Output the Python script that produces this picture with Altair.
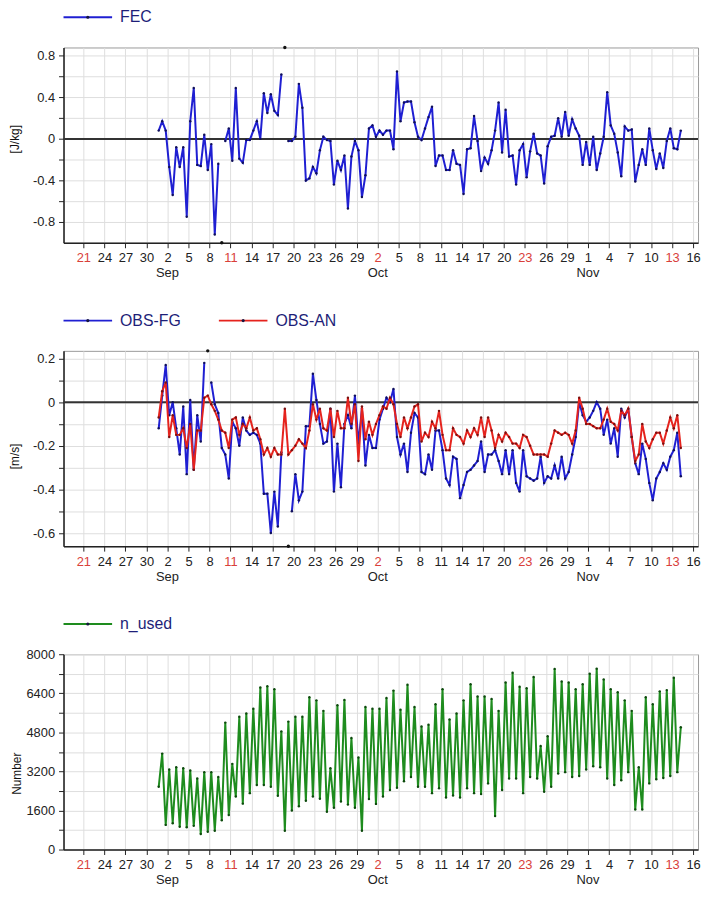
import altair as alt
import pandas as pd

FONT = "Liberation Sans"
INK = "#222222"
GRID = "#dedede"
SUN = "#d9403a"
LEG_TXT = "#1e1e78"

# ---------------- data (12-hourly, first time 2011-08-31 18 UTC) ----------------
N = 150
times = pd.date_range("2011-08-31 18:00", periods=N, freq="12h").strftime("%Y-%m-%dT%H:%M:%SZ").tolist()

fec = [0.08, 0.17, 0.08, -0.27, -0.54, -0.08, -0.27, -0.08, -0.75, 0.17,
       0.49, -0.25, -0.26, 0.04, -0.30, -0.05, -0.92, -0.24, None, -0.02,
       0.10, -0.21, 0.49, -0.19, -0.23, -0.01, -0.01, 0.08, 0.17, 0.00,
       0.44, 0.25, 0.43, 0.27, 0.23, 0.62, None, -0.02, -0.02, 0.02,
       0.53, 0.30, -0.40, -0.38, -0.27, -0.33, -0.11, 0.02, -0.01, -0.02,
       -0.44, -0.21, -0.30, -0.16, -0.67, -0.17, -0.02, -0.11, -0.56, -0.35,
       0.10, 0.13, 0.02, 0.08, 0.04, 0.08, 0.08, -0.10, 0.65, 0.17,
       0.35, 0.36, 0.36, 0.16, 0.02, -0.01, 0.10, 0.21, 0.31, -0.26,
       -0.16, -0.16, -0.30, -0.30, -0.11, -0.24, -0.25, -0.53, -0.10, -0.09,
       0.22, -0.02, -0.31, -0.18, -0.24, -0.11, 0.08, 0.35, -0.13, 0.28,
       -0.17, -0.16, -0.44, -0.11, -0.05, -0.37, -0.12, 0.05, -0.14, -0.16,
       -0.43, -0.07, 0.02, 0.03, 0.20, 0.02, 0.26, 0.03, 0.19, 0.10,
       0.03, -0.25, -0.03, -0.25, 0.02, -0.30, -0.14, 0.02, 0.45, 0.13,
       0.05, -0.13, -0.36, 0.12, 0.08, 0.09, -0.41, -0.25, -0.10, -0.25,
       0.10, -0.11, -0.29, -0.14, -0.28, -0.02, 0.10, -0.09, -0.10, 0.08]
fec_out_idx = [18, 36]
fec_out_val = [-1.0, 0.88]

obs_fg = [-0.12, 0.03, 0.17, -0.06, 0.00, -0.12, -0.24, -0.02, -0.33, 0.01,
          -0.31, -0.06, -0.18, 0.18, None, 0.09, -0.01, -0.05, -0.21, -0.24,
          -0.35, -0.09, -0.12, -0.20, -0.07, -0.13, -0.15, -0.14, -0.15, -0.19,
          -0.42, -0.42, -0.60, -0.41, -0.57, -0.23, None, None, -0.50, -0.33,
          -0.45, -0.41, -0.11, -0.11, 0.13, 0.01, -0.10, -0.19, -0.18, -0.03,
          -0.41, -0.19, -0.39, -0.10, -0.06, -0.12, 0.03, -0.19, -0.03, -0.29,
          -0.15, -0.21, -0.21, -0.08, -0.03, 0.02, 0.00, 0.06, -0.16, -0.24,
          -0.19, -0.32, -0.14, -0.05, -0.07, -0.32, -0.33, -0.24, -0.31, -0.13,
          -0.13, -0.22, -0.35, -0.38, -0.25, -0.26, -0.44, -0.38, -0.32, -0.31,
          -0.29, -0.27, -0.18, -0.32, -0.24, -0.24, -0.22, -0.27, -0.33, -0.22,
          -0.33, -0.22, -0.37, -0.41, -0.22, -0.34, -0.35, -0.36, -0.35, -0.25,
          -0.37, -0.34, -0.35, -0.29, -0.35, -0.25, -0.35, -0.32, -0.24, -0.16,
          0.00, -0.06, -0.09, -0.07, -0.04, 0.00, -0.03, -0.15, -0.08, -0.19,
          -0.12, -0.25, -0.03, -0.07, -0.03, -0.16, -0.28, -0.33, -0.19, -0.26,
          -0.37, -0.45, -0.35, -0.32, -0.28, -0.31, -0.25, -0.22, -0.14, -0.34]
fg_out_idx = [14, 37]
fg_out_val = [0.235, -0.66]

obs_an = [-0.07, 0.05, 0.09, -0.16, -0.06, -0.15, -0.15, -0.12, -0.21, -0.10,
          -0.31, -0.13, -0.13, 0.02, 0.03, -0.01, -0.04, -0.08, -0.13, -0.14,
          -0.21, -0.08, -0.07, -0.15, -0.10, -0.12, -0.07, -0.13, -0.12, -0.17,
          -0.24, -0.21, -0.25, -0.21, -0.24, -0.24, -0.03, -0.24, -0.22, -0.20,
          -0.17, -0.19, -0.21, -0.13, -0.01, -0.08, -0.03, -0.12, -0.13, -0.03,
          -0.16, -0.04, -0.12, -0.12, 0.02, -0.10, -0.01, -0.27, -0.02, -0.17,
          -0.09, -0.15, -0.10, -0.06, -0.02, -0.03, 0.02, -0.01, -0.10, -0.16,
          -0.07, -0.12, -0.07, -0.02, -0.01, -0.18, -0.14, -0.16, -0.09, -0.12,
          -0.04, -0.15, -0.22, -0.22, -0.12, -0.15, -0.16, -0.19, -0.13, -0.16,
          -0.12, -0.15, -0.07, -0.16, -0.07, -0.13, -0.21, -0.15, -0.18, -0.14,
          -0.16, -0.19, -0.19, -0.21, -0.15, -0.16, -0.20, -0.24, -0.24, -0.24,
          -0.24, -0.25, -0.19, -0.13, -0.14, -0.15, -0.14, -0.15, -0.19, -0.13,
          0.02, -0.03, -0.10, -0.10, -0.11, -0.12, -0.12, -0.08, -0.03, -0.09,
          -0.10, -0.13, -0.04, -0.06, -0.03, -0.16, -0.27, -0.24, -0.10, -0.18,
          -0.21, -0.17, -0.14, -0.14, -0.19, -0.13, -0.07, -0.12, -0.06, -0.21]

n_used = [2570, 3930, 1010, 3280, 1080, 3370, 930, 3330, 910, 3240,
          970, 2910, 640, 3170, 730, 3170, 770, 2970, 1200, 5200,
          1410, 3510, 2170, 5440, 1880, 5570, 2310, 5770, 2640, 6640,
          2640, 6690, 2570, 6570, 2200, 4840, 770, 5240, 1600, 5440,
          1770, 5440, 2000, 6240, 2170, 6110, 2080, 5680, 1550, 3330,
          1710, 5910, 1970, 6130, 1840, 4570, 1710, 3770, 770, 5840,
          2070, 5770, 1870, 5770, 2170, 6210, 2440, 6510, 2530, 5730,
          2800, 6750, 2970, 5840, 2570, 5040, 2570, 5110, 2310, 5950,
          2510, 6570, 2130, 5330, 2210, 5570, 2130, 6110, 2510, 6770,
          2310, 6270, 2270, 6270, 2710, 6170, 1370, 5680, 2440, 6840,
          2910, 7240, 2910, 6670, 2310, 6610, 2970, 7070, 2910, 4240,
          2370, 4640, 2570, 7400, 3110, 6880, 3170, 6840, 2970, 6570,
          3010, 6770, 3280, 7200, 3410, 7410, 3370, 6970, 2910, 6570,
          2640, 6440, 2840, 6110, 3170, 5680, 1640, 3370, 1640, 6240,
          2710, 5950, 2880, 6480, 2930, 6530, 3010, 7040, 3170, 5010]

month_dates = ["2011-09-02T00:00:00Z", "2011-10-02T00:00:00Z", "2011-11-01T00:00:00Z"]
month_names = ["Sep", "Oct", "Nov"]

fec_df = pd.DataFrame({"t": times, "v": fec})
fec_out_df = pd.DataFrame({"t": [times[i] for i in fec_out_idx], "v": fec_out_val})
fg_df = pd.DataFrame({"t": times, "v": obs_fg})
fg_out_df = pd.DataFrame({"t": [times[i] for i in fg_out_idx], "v": fg_out_val})
an_df = pd.DataFrame({"t": times, "v": obs_an})
n_df = pd.DataFrame({"t": times, "v": n_used})
month_df = pd.DataFrame({"t": month_dates, "name": month_names})
zero_df = pd.DataFrame({"v": [0.0]})

# ---------------- encodings ----------------
W = 640
X_DOMAIN = [alt.DateTime(year=2011, month=8, date=18, hours=4, utc=True),
            alt.DateTime(year=2011, month=11, date=16, hours=17, utc=True)]
tick_days = pd.date_range("2011-08-21", "2011-11-16", freq="3D")
TICKS = [alt.DateTime(year=int(d.year), month=int(d.month), date=int(d.day), utc=True) for d in tick_days]


def xenc():
    return alt.X(
        "t:T",
        scale=alt.Scale(type="utc", domain=X_DOMAIN),
        axis=alt.Axis(
            values=TICKS, title=None, grid=True, gridColor=GRID, gridWidth=1,
            labelExpr="'' + utcdate(datum.value)",
            labelColor={"condition": {"test": "utcday(datum.value) == 0", "value": SUN}, "value": INK},
            labelFontSize=13, labelFont=FONT, labelPadding=4, labelOverlap=False, labelFlush=False,
            tickSize=5, tickColor=INK, domainColor=INK, domainWidth=1.5,
        ),
    )


def yenc(domain, values, step, title, tx, ty, integer=False):
    if integer:
        fmt = "format(datum.value, 'd')"
    else:
        fmt = "(datum.value == 0 ? '0' : (datum.value < 0 ? '-' : '') + format(abs(datum.value), '.1f'))"
    expr = f"abs(datum.value / {step} - round(datum.value / {step})) < 0.001 ? {fmt} : ''"
    return alt.Y(
        "v:Q",
        scale=alt.Scale(domain=domain, nice=False, zero=False),
        axis=alt.Axis(
            values=values, title=title, labelExpr=expr, grid=True, gridColor=GRID, gridWidth=1,
            labelFontSize=13, labelFont=FONT, labelColor=INK, labelPadding=4,
            tickSize=5, tickColor=INK, domainColor=INK, domainWidth=1.5,
            titleX=tx, titleY=ty, titleAngle=270, titleAlign="center", titleBaseline="middle",
            titleFontSize=12, titleFont=FONT, titleFontWeight="normal", titleColor="#111111",
        ),
    )


LEG_Y = -30.5
MONTH_DY = 31


def legend(entries):
    layers = []
    for label, color, x0 in entries:
        d = pd.DataFrame({"label": [label]})
        b = alt.Chart(d)
        layers.append(b.mark_rule(color=color, strokeWidth=2).encode(
            x=alt.value(x0), x2=alt.value(x0 + 49), y=alt.value(LEG_Y)))
        layers.append(b.mark_circle(color="#151540", size=10, opacity=1).encode(
            x=alt.value(x0 + 24.5), y=alt.value(LEG_Y)))
        layers.append(b.mark_text(align="left", baseline="middle", fontSize=16, font=FONT, color=LEG_TXT).encode(
            x=alt.value(x0 + 57), y=alt.value(LEG_Y), text="label:N"))
    return layers


def months(h):
    return alt.Chart(month_df).mark_text(baseline="middle", fontSize=13, font=FONT, color=INK).encode(
        x=xenc(), y=alt.value(h + MONTH_DY), text="name:N")


def series_line(df, y, color, dot):
    return alt.Chart(df).mark_line(
        color=color, strokeWidth=2, invalid="break-paths-filter-domains",
        point=alt.OverlayMarkDef(filled=True, size=6, color=dot),
    ).encode(x=xenc(), y=y)


def outlier_pts(df, y):
    return alt.Chart(df).mark_circle(color="#111111", size=12, opacity=1).encode(x=xenc(), y=y)


def zero_rule(y):
    return alt.Chart(zero_df).mark_rule(color="#333333", strokeWidth=2).encode(y=y)


BLUE = "#1f1fd2"
RED = "#e5231d"
GREEN = "#1e8c1e"

# ---------------- panel 1 : FEC ----------------
H1 = 197
y1 = yenc([-1.0, 0.88], [-0.8, -0.6, -0.4, -0.2, 0.0, 0.2, 0.4, 0.6, 0.8], 0.4, "[J/kg]", -49, 92)
p1 = alt.layer(
    zero_rule(y1),
    series_line(fec_df, y1, BLUE, "#10105a"),
    outlier_pts(fec_out_df, y1),
    *legend([("FEC", BLUE, 0)]),
    months(H1),
).properties(width=W, height=H1)

# ---------------- panel 2 : OBS-FG / OBS-AN ----------------
H2 = 197
y2 = yenc([-0.66, 0.235], [-0.6, -0.5, -0.4, -0.3, -0.2, -0.1, 0.0, 0.1, 0.2], 0.2, "[m/s]", -49, 106)
p2 = alt.layer(
    zero_rule(y2),
    series_line(fg_df, y2, BLUE, "#10105a"),
    series_line(an_df, y2, RED, "#7a1010"),
    outlier_pts(fg_out_df, y2),
    *legend([("OBS-FG", BLUE, 0), ("OBS-AN", RED, 156.7)]),
    months(H2),
).properties(width=W, height=H2)

# ---------------- panel 3 : n_used ----------------
H3 = 197
y3 = yenc([0, 8000], list(range(0, 8001, 800)), 1600, "Number", -47, 120, integer=True)
p3 = alt.layer(
    series_line(n_df, y3, GREEN, "#0d4a0d"),
    *legend([("n_used", GREEN, 0)]),
    months(H3),
).properties(width=W, height=H3)

chart = alt.vconcat(p1, p2, p3, spacing=31).properties(
    padding={"left": 0, "top": -3, "right": 0, "bottom": 0},
    background="white",
).configure(font=FONT).configure_view(stroke="#9a9a9a", strokeWidth=1)

chart.save("out.html", embed_options={"renderer": "svg", "actions": False})
